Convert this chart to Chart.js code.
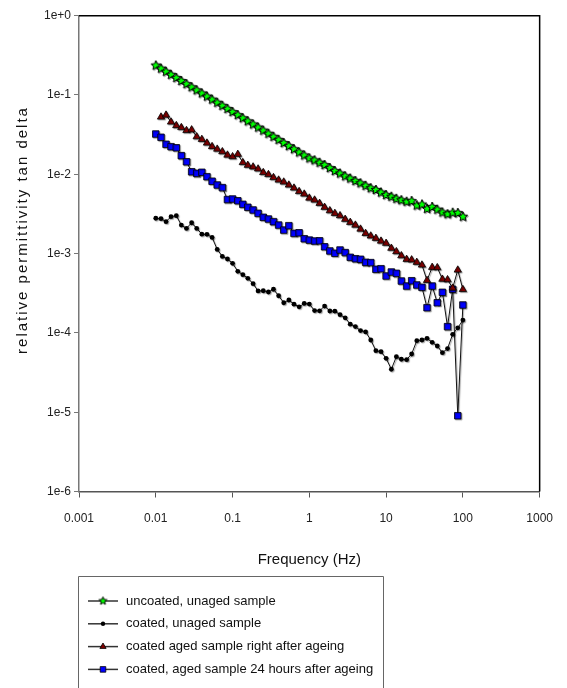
<!DOCTYPE html>
<html>
<head>
<meta charset="utf-8">
<script src="https://cdn.jsdelivr.net/npm/chart.js"></script>
<style>
    html, body { margin: 0; padding: 0; background: #fff; }
    canvas { display: block; }
</style>
</head>
<body>
<canvas id="tan-delta-chart" width="567" height="688"></canvas>
<script>
// frequencies (Hz), 15 points per decade
const freqHz = [
    0.01, 0.0117, 0.0136, 0.0158, 0.0185, 0.0215, 0.0251, 0.0293, 0.0341, 0.0398, 0.0464, 0.0541, 0.0631, 0.0736, 0.0858,
    0.1, 0.117, 0.136, 0.158, 0.185, 0.215, 0.251, 0.293, 0.341, 0.398, 0.464, 0.541, 0.631, 0.736, 0.858,
    1, 1.17, 1.36, 1.58, 1.85, 2.15, 2.51, 2.93, 3.41, 3.98, 4.64, 5.41, 6.31, 7.36, 8.58,
    10, 11.7, 13.6, 15.8, 18.5, 21.5, 25.1, 29.3, 34.1, 39.8, 46.4, 54.1, 63.1, 73.6, 85.8,
    100,
];

const uncoatedUnaged = [
    0.2355, 0.2152, 0.1967, 0.1798, 0.1643, 0.1502, 0.1372, 0.1254, 0.1146, 0.1047,
    0.0957, 0.0875, 0.0799, 0.0731, 0.0668, 0.0610, 0.0558, 0.0510, 0.0466, 0.0426,
    0.0389, 0.0356, 0.0325, 0.0297, 0.0272, 0.0248, 0.0227, 0.0207, 0.0189, 0.0173,
    0.0159, 0.0150, 0.0140, 0.0131, 0.0120, 0.0110, 0.01023, 0.00944, 0.00885, 0.00823,
    0.00770, 0.00716, 0.00668, 0.00634, 0.00589, 0.00548, 0.00522, 0.00491, 0.00471, 0.00451,
    0.00460, 0.00404, 0.00416, 0.00367, 0.00387, 0.00358, 0.00330, 0.00314, 0.00328, 0.00325, 0.00292,
];

const coatedUnaged = [
    0.00279, 0.00276, 0.00253, 0.00292, 0.00301, 0.00229, 0.00208, 0.00245, 0.00208, 0.00176,
    0.00175, 0.00160, 0.00113, 0.000922, 0.000855, 0.000754, 0.000598, 0.000543, 0.000488, 0.000418,
    0.000338, 0.000340, 0.000328, 0.000355, 0.000294, 0.000240, 0.000260, 0.000230, 0.000213, 0.000235,
    0.000231, 0.000191, 0.000190, 0.000218, 0.000189, 0.000188, 0.000170, 0.000155, 0.000129, 0.000120,
    0.000107, 0.000103, 8.14e-5, 5.96e-5, 5.79e-5, 4.78e-5, 3.48e-5, 5.01e-5, 4.65e-5, 4.60e-5,
    5.42e-5, 7.97e-5, 8.14e-5, 8.55e-5, 7.61e-5, 6.84e-5, 5.63e-5, 6.34e-5, 9.60e-5, 0.000116, 0.000145,
];

const coatedAgedRightAfter = [
    null, 0.0528, 0.0559, 0.0457, 0.0412, 0.0389, 0.0357, 0.0364, 0.0298, 0.0276,
    0.0248, 0.0224, 0.0208, 0.0193, 0.0175, 0.0167, 0.0179, 0.0141, 0.0130, 0.0124,
    0.0117, 0.01054, 0.00994, 0.00911, 0.00847, 0.00800, 0.00733, 0.00672, 0.00607, 0.00564,
    0.00502, 0.00474, 0.00431, 0.00384, 0.00348, 0.00322, 0.00301, 0.00271, 0.00248, 0.00229,
    0.00204, 0.00180, 0.00167, 0.00156, 0.00144, 0.00135, 0.00117, 0.00106, 0.000941, 0.000848,
    0.000835, 0.000777, 0.000718, 0.000460, 0.000672, 0.000666, 0.000476, 0.000469, 0.000368, 0.000621, 0.000353,
];

const coatedAged24h = [
    0.0322, 0.0293, 0.0239, 0.0223, 0.0216, 0.0172, 0.0144, 0.01078, 0.01029, 0.01060,
    0.00933, 0.00818, 0.00733, 0.00680, 0.00481, 0.00488, 0.00464, 0.00418, 0.00384, 0.00355,
    0.00322, 0.00287, 0.00273, 0.00253, 0.00229, 0.00198, 0.00225, 0.00180, 0.00183, 0.00154,
    0.00148, 0.00144, 0.00145, 0.00122, 0.00108, 0.00101, 0.00111, 0.00103, 0.000898, 0.000862,
    0.000848, 0.000777, 0.000770, 0.000634, 0.000645, 0.000522, 0.000586, 0.000564, 0.000451, 0.000390,
    0.000455, 0.000402, 0.000376, 0.000208, 0.000390, 0.000240, 0.000325, 0.000120, 0.000355, 9.03e-6, 0.000225,
];

const seriesLabels = [
    "uncoated, unaged sample",
    "coated, unaged sample",
    "coated aged sample right after ageing",
    "coated, aged sample 24 hours after ageing",
];

const xTickValues = [0.001, 0.01, 0.1, 1, 10, 100, 1000];
const xTickLabels = ["0.001", "0.01", "0.1", "1", "10", "100", "1000"];
const yTickValues = [1e-6, 1e-5, 1e-4, 1e-3, 1e-2, 1e-1, 1];
const yTickLabels = ["1e-6", "1e-5", "1e-4", "1e-3", "1e-2", "1e-1", "1e+0"];

const xTitle = "Frequency (Hz)";
const yTitle = "relative permittivity tan delta";

function makeStar(r, fill) {
    const c = document.createElement("canvas");
    const s = Math.ceil(r * 2 + 2);
    c.width = s;
    c.height = s;
    const g = c.getContext("2d");
    g.beginPath();
    for (let k = 0; k < 10; k++) {
        const rr = k % 2 ? r * 0.45 : r;
        const a = -Math.PI / 2 + (k * Math.PI) / 5;
        g.lineTo(s / 2 + rr * Math.cos(a), s / 2 + rr * Math.sin(a));
    }
    g.closePath();
    g.fillStyle = fill;
    g.fill();
    g.strokeStyle = "#000";
    g.lineWidth = 1;
    g.stroke();
    return c;
}

function toPoints(values) {
    const pts = [];
    values.forEach(function (v, i) {
        if (v !== null) pts.push({ x: freqHz[i], y: v });
    });
    return pts;
}

document.addEventListener("DOMContentLoaded", function () {
    const star = makeStar(5, "#00ff00");
    const legendStar = makeStar(4.2, "#00ff00");

    const styles = [
        { pointStyle: star, radius: 5, bg: "#00ff00" },
        { pointStyle: "circle", radius: 2.4, bg: "#000000" },
        { pointStyle: "triangle", radius: 4.2, bg: "#800000" },
        { pointStyle: "rect", radius: 4.6, bg: "#0000ff" },
    ];
    const seriesValues = [uncoatedUnaged, coatedUnaged, coatedAgedRightAfter, coatedAged24h];

    const datasets = seriesValues.map(function (vals, i) {
        return {
            label: seriesLabels[i],
            data: toPoints(vals),
            borderColor: "#111",
            borderWidth: 1,
            pointStyle: styles[i].pointStyle,
            pointRadius: styles[i].radius,
            pointBackgroundColor: styles[i].bg,
            pointBorderColor: "#000",
            pointBorderWidth: i === 1 ? 0 : 0.8,
            fill: false,
            tension: 0,
        };
    });

    // soft grey drop shadow under the marks
    const shadowPlugin = {
        id: "shadow",
        beforeDatasetsDraw(chart) {
            const c = chart.ctx;
            c.save();
            c.shadowColor = "rgba(0,0,0,0.35)";
            c.shadowOffsetX = 1;
            c.shadowOffsetY = 1;
            c.shadowBlur = 1;
        },
        afterDatasetsDraw(chart) {
            chart.ctx.restore();
        },
    };

    function drawLegendMarker(ctx, i, x, y) {
        ctx.save();
        ctx.fillStyle = styles[i].bg;
        ctx.strokeStyle = "#000";
        ctx.lineWidth = 0.8;
        ctx.beginPath();
        if (i === 0) {
            ctx.drawImage(legendStar, x - legendStar.width / 2, y - legendStar.height / 2);
        } else if (i === 1) {
            ctx.arc(x, y, 2.2, 0, Math.PI * 2);
            ctx.fill();
        } else if (i === 2) {
            const r = 3.6;
            ctx.moveTo(x, y - r);
            ctx.lineTo(x + r * 0.866, y + r * 0.5);
            ctx.lineTo(x - r * 0.866, y + r * 0.5);
            ctx.closePath();
            ctx.fill();
            ctx.stroke();
        } else {
            ctx.rect(x - 2.8, y - 2.8, 5.6, 5.6);
            ctx.fill();
            ctx.stroke();
        }
        ctx.restore();
    }

    const framePlugin = {
        id: "frame",
        afterDraw(chart) {
            const ctx = chart.ctx;
            const a = chart.chartArea;
            ctx.save();
            // top and right border
            ctx.strokeStyle = "#000";
            ctx.lineWidth = 1.5;
            ctx.beginPath();
            ctx.moveTo(a.left, a.top);
            ctx.lineTo(a.right, a.top);
            ctx.lineTo(a.right, a.bottom);
            ctx.stroke();

            // axis titles
            ctx.fillStyle = "#111";
            ctx.font = "15px 'Liberation Sans', Arial, sans-serif";
            ctx.textAlign = "center";
            ctx.textBaseline = "middle";
            ctx.fillText(xTitle, (a.left + a.right) / 2, 560);

            ctx.save();
            ctx.translate(23, 230);
            ctx.rotate(-Math.PI / 2);
            ctx.letterSpacing = "2px";
            ctx.fillText(yTitle, 0, 0);
            ctx.restore();

            // legend box
            const bx = 78, by = 576, bw = 305;
            ctx.strokeStyle = "#666";
            ctx.lineWidth = 1;
            ctx.beginPath();
            ctx.moveTo(bx + 0.5, 700);
            ctx.lineTo(bx + 0.5, by + 0.5);
            ctx.lineTo(bx + bw + 0.5, by + 0.5);
            ctx.lineTo(bx + bw + 0.5, 700);
            ctx.stroke();

            ctx.font = "13px 'Liberation Sans', Arial, sans-serif";
            ctx.textAlign = "left";
            seriesLabels.forEach(function (label, i) {
                const y = 601 + i * 22.8;
                ctx.strokeStyle = "#333";
                ctx.lineWidth = 1.5;
                ctx.beginPath();
                ctx.moveTo(88, y);
                ctx.lineTo(118, y);
                ctx.stroke();
                drawLegendMarker(ctx, i, 103, y);
                ctx.fillStyle = "#111";
                ctx.fillText(label, 126, y);
            });
            ctx.restore();
        },
    };

    new Chart("tan-delta-chart", {
        type: "line",
        data: { datasets: datasets },
        options: {
            responsive: false,
            animation: false,
            layout: { padding: { top: 15.7, right: 22.7, left: 0, bottom: 0 } },
            plugins: {
                legend: { display: false },
                tooltip: { enabled: false },
            },
            scales: {
                x: {
                    type: "logarithmic",
                    min: 0.001,
                    max: 1000,
                    afterBuildTicks: function (scale) {
                        scale.ticks = xTickValues.map(function (v) { return { value: v }; });
                    },
                    afterFit: function (scale) {
                        scale.height = 196.5;
                    },
                    ticks: {
                        autoSkip: false,
                        maxRotation: 0,
                        padding: 14,
                        color: "#222",
                        font: { family: "'Liberation Sans', Arial, sans-serif", size: 12 },
                        callback: function (value, index) {
                            return xTickLabels[index];
                        },
                    },
                    grid: { drawOnChartArea: false, drawTicks: true, tickLength: 6, color: "#555" },
                    border: { display: true, color: "#555", width: 1.5 },
                },
                y: {
                    type: "logarithmic",
                    min: 1e-6,
                    max: 1,
                    afterBuildTicks: function (scale) {
                        scale.ticks = yTickValues.map(function (v) { return { value: v }; });
                    },
                    afterFit: function (scale) {
                        scale.width = 79;
                    },
                    ticks: {
                        autoSkip: false,
                        padding: 3,
                        color: "#222",
                        font: { family: "'Liberation Sans', Arial, sans-serif", size: 12 },
                        callback: function (value, index) {
                            return yTickLabels[index];
                        },
                    },
                    grid: { drawOnChartArea: false, drawTicks: true, tickLength: 5, color: "#777" },
                    border: { display: true, color: "#777", width: 1.5 },
                },
            },
        },
        plugins: [shadowPlugin, framePlugin],
    });
});
</script>
</body>
</html>
